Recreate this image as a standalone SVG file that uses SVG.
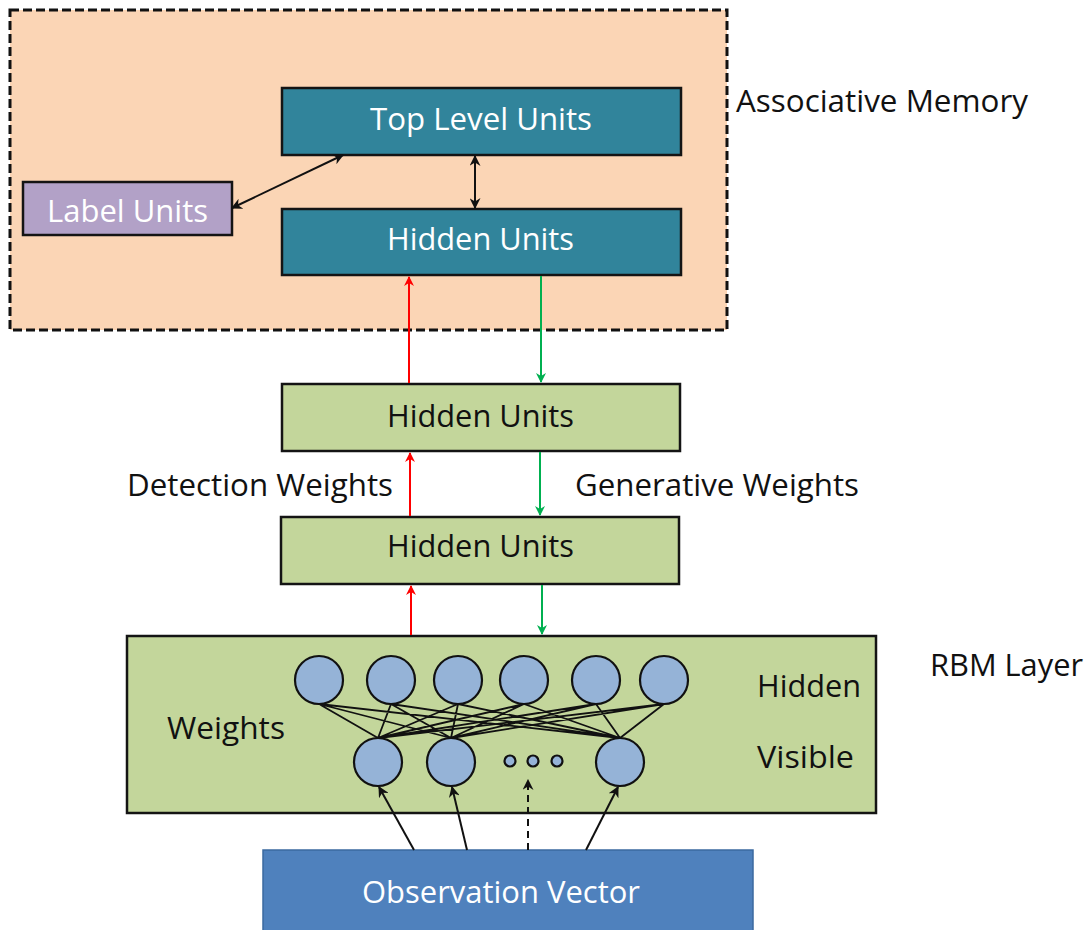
<svg xmlns="http://www.w3.org/2000/svg" width="1091" height="930" viewBox="0 0 1091 930">
  <defs>
    <style>
      text { font-family: "Open Sans", "Liberation Sans", sans-serif; font-size: 31px; }
      .w { fill: #ffffff; }
      .k { fill: #111111; }
      .box { stroke: #141414; stroke-width: 2.5; }
      .teal { fill: #31849B; }
      .green { fill: #C3D69B; }
      .lab { fill: #B2A1C7; }
      .unit { fill: #95B3D7; stroke: #111111; stroke-width: 2.2; }
      .w8 { stroke: #111111; stroke-width: 1.8; fill: none; }
      .red { stroke: #FF0000; stroke-width: 2; fill: none; }
      .grn { stroke: #00B050; stroke-width: 2; fill: none; }
      .blk { stroke: #111111; stroke-width: 2; fill: none; }
    </style>
    <marker id="ahR" viewBox="0 0 10 10" refX="9" refY="5" markerWidth="10" markerHeight="10" markerUnits="userSpaceOnUse" orient="auto-start-reverse">
      <path d="M0,0 L10,5 L0,10 L3,5 Z" fill="#FF0000"/>
    </marker>
    <marker id="ahG" viewBox="0 0 10 10" refX="9" refY="5" markerWidth="10" markerHeight="10" markerUnits="userSpaceOnUse" orient="auto-start-reverse">
      <path d="M0,0 L10,5 L0,10 L3,5 Z" fill="#00B050"/>
    </marker>
    <marker id="ahK" viewBox="0 0 10 10" refX="9" refY="5" markerWidth="11" markerHeight="11" markerUnits="userSpaceOnUse" orient="auto-start-reverse">
      <path d="M0,0 L10,5 L0,10 L3,5 Z" fill="#111111"/>
    </marker>
  </defs>

  <rect width="1091" height="930" fill="#ffffff"/>

  <!-- associative memory region -->
  <g id="associative-memory">
    <rect x="10" y="10" width="717" height="320" fill="#FBD5B5" stroke="#111111" stroke-width="3" stroke-dasharray="9,4"/>
    <text class="k" x="736" y="112" textLength="292" lengthAdjust="spacingAndGlyphs">Associative Memory</text>
  </g>

  <g id="top-level-units">
    <rect class="box teal" x="282" y="88" width="399" height="67"/>
    <text class="w" x="370" y="130" textLength="222" lengthAdjust="spacingAndGlyphs">Top Level Units</text>
  </g>

  <g id="label-units">
    <rect class="box lab" x="23" y="182" width="209" height="53"/>
    <text class="w" x="47" y="222" textLength="161" lengthAdjust="spacingAndGlyphs">Label Units</text>
  </g>

  <g id="assoc-hidden-units">
    <rect class="box teal" x="282" y="209" width="399" height="66"/>
    <text class="w" x="387" y="250" textLength="187" lengthAdjust="spacingAndGlyphs">Hidden Units</text>
  </g>

  <g id="hidden-units-1">
    <rect class="box green" x="282" y="384" width="398" height="67"/>
    <text class="k" x="387" y="427" textLength="187" lengthAdjust="spacingAndGlyphs">Hidden Units</text>
  </g>

  <g id="hidden-units-2">
    <rect class="box green" x="281" y="517" width="398" height="67"/>
    <text class="k" x="387" y="557" textLength="187" lengthAdjust="spacingAndGlyphs">Hidden Units</text>
  </g>

  <g id="weight-labels">
    <text class="k" x="127" y="496" textLength="266" lengthAdjust="spacingAndGlyphs">Detection Weights</text>
    <text class="k" x="575" y="496" textLength="284" lengthAdjust="spacingAndGlyphs">Generative Weights</text>
  </g>

  <!-- RBM layer with hidden and visible units -->
  <g id="rbm-layer">
    <rect class="box green" x="127" y="636" width="749" height="177"/>
    <text class="k" x="930" y="676" textLength="153" lengthAdjust="spacingAndGlyphs">RBM Layer</text>
    <text class="k" x="757" y="697" textLength="104" lengthAdjust="spacingAndGlyphs">Hidden</text>
    <text class="k" x="757" y="768" textLength="97" lengthAdjust="spacingAndGlyphs">Visible</text>
    <text class="k" x="167" y="739" textLength="118" lengthAdjust="spacingAndGlyphs">Weights</text>
    <g id="rbm-weights">
      <path class="w8" d="
        M319,704 L378,738 M319,704 L451,738 M319,704 L620,738
        M391,704 L378,738 M391,704 L451,738 M391,704 L620,738
        M458,704 L378,738 M458,704 L451,738 M458,704 L620,738
        M524,704 L378,738 M524,704 L451,738 M524,704 L620,738
        M596,704 L378,738 M596,704 L451,738 M596,704 L620,738
        M664,704 L378,738 M664,704 L451,738 M664,704 L620,738"/>
    </g>
    <g id="hidden-nodes">
      <circle class="unit" cx="319" cy="680" r="24"/>
      <circle class="unit" cx="391" cy="680" r="24"/>
      <circle class="unit" cx="458" cy="680" r="24"/>
      <circle class="unit" cx="524" cy="680" r="24"/>
      <circle class="unit" cx="596" cy="680" r="24"/>
      <circle class="unit" cx="664" cy="680" r="24"/>
    </g>
    <g id="visible-nodes">
      <circle class="unit" cx="378" cy="762" r="24"/>
      <circle class="unit" cx="451" cy="762" r="24"/>
      <circle class="unit" cx="620" cy="762" r="24"/>
      <circle class="unit" cx="510" cy="761" r="5.5" stroke-width="1.8"/>
      <circle class="unit" cx="533" cy="761" r="5.5" stroke-width="1.8"/>
      <circle class="unit" cx="557" cy="761" r="5.5" stroke-width="1.8"/>
    </g>
  </g>

  <g id="observation-vector">
    <rect x="263" y="850" width="490" height="82" fill="#4F81BD" stroke="#3B6AA0" stroke-width="1.5"/>
    <text class="w" x="362" y="903" textLength="278" lengthAdjust="spacingAndGlyphs">Observation Vector</text>
  </g>

  <!-- connectors -->
  <g id="connectors">
    <line class="blk" x1="232" y1="208" x2="343" y2="155" marker-start="url(#ahK)" marker-end="url(#ahK)"/>
    <line class="blk" x1="475" y1="156" x2="475" y2="208" marker-start="url(#ahK)" marker-end="url(#ahK)"/>

    <line class="red" x1="409" y1="383" x2="409" y2="277" marker-end="url(#ahR)"/>
    <line class="grn" x1="541" y1="276" x2="541" y2="382" marker-end="url(#ahG)"/>

    <line class="red" x1="410" y1="516" x2="410" y2="453" marker-end="url(#ahR)"/>
    <line class="grn" x1="540" y1="452" x2="540" y2="515" marker-end="url(#ahG)"/>

    <line class="red" x1="411" y1="635" x2="411" y2="586" marker-end="url(#ahR)"/>
    <line class="grn" x1="542" y1="585" x2="542" y2="634" marker-end="url(#ahG)"/>

    <line class="blk" x1="414" y1="850" x2="379" y2="787" marker-end="url(#ahK)"/>
    <line class="blk" x1="467" y1="850" x2="452" y2="787" marker-end="url(#ahK)"/>
    <line class="blk" x1="528" y1="850" x2="528" y2="780" stroke-dasharray="7,5" marker-end="url(#ahK)"/>
    <line class="blk" x1="586" y1="850" x2="618" y2="787" marker-end="url(#ahK)"/>
  </g>
</svg>
